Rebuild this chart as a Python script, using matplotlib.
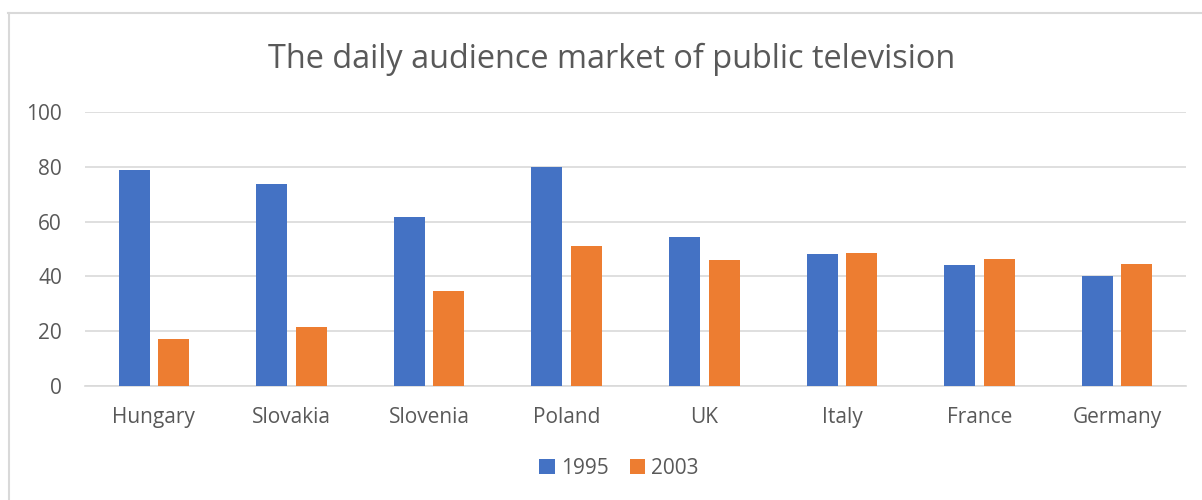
import numpy as np
import matplotlib.pyplot as plt
from matplotlib.lines import Line2D

countries = ["Hungary", "Slovakia", "Slovenia", "Poland", "UK", "Italy", "France", "Germany"]
years = ["1995", "2003"]
share_1995 = [79.0, 73.6, 61.5, 80.0, 54.3, 48.1, 44.0, 40.1]
share_2003 = [17.3, 21.7, 34.6, 51.2, 46.0, 48.5, 46.3, 44.5]
y_ticks = [0, 20, 40, 60, 80, 100]

blue = "#4472C4"
orange = "#ED7D31"
text_col = "#595959"
grid_col = "#D9D9D9"
font = ["Open Sans", "DejaVu Sans"]

fig = plt.figure(figsize=(12.02, 5.0), dpi=100)
ax = fig.add_axes([85 / 1202, 1 - 386 / 500, 1101 / 1202, 274 / 500])

x = np.arange(len(countries))
w = 0.225
off = 0.1435
ax.bar(x - off, share_1995, w, color=blue, label=years[0], zorder=3)
ax.bar(x + off, share_2003, w, color=orange, label=years[1], zorder=3)

ax.set_xlim(-0.5, 7.5)
ax.set_ylim(0, 100)
ax.set_yticks(y_ticks)
ax.set_xticks(x)
ax.set_xticklabels(countries)
ax.yaxis.grid(True, color=grid_col, linewidth=1.2, zorder=0)
ax.tick_params(length=0, colors=text_col, labelsize=15)
ax.tick_params(axis="x", pad=15)
ax.tick_params(axis="y", pad=16.5)
for lab in ax.get_xticklabels() + ax.get_yticklabels():
    lab.set_family(font)
for s in ["top", "right", "left"]:
    ax.spines[s].set_visible(False)
ax.spines["bottom"].set_color(grid_col)
ax.spines["bottom"].set_linewidth(1.2)

fig.text(612 / 1202, 1 - 59.5 / 500, "The daily audience market of public television",
         ha="center", va="center", fontsize=23.4, color=text_col, family=font)

ax.legend(loc="center", bbox_to_anchor=(0.485, -0.30), ncol=2, frameon=False,
          prop={"family": font, "size": 15}, labelcolor=text_col,
          handlelength=0.75, handleheight=0.75, handletextpad=0.3, columnspacing=1.0)

# chart border
fig.add_artist(Line2D([8 / 1202, 1], [1 - 12.5 / 500] * 2, color=grid_col, linewidth=1.5))
fig.add_artist(Line2D([8.5 / 1202] * 2, [0, 1 - 12.5 / 500], color=grid_col, linewidth=1.5))

fig.savefig("out.png", dpi=100)
